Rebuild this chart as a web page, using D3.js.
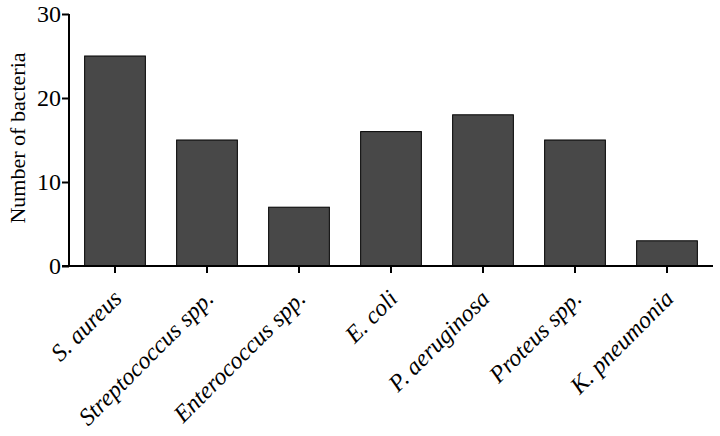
<!DOCTYPE html>
<html><head><meta charset="utf-8">
<script src="https://cdn.jsdelivr.net/npm/d3@7"></script>
<style>body{margin:0;background:#fff}svg{display:block}</style>
</head><body>
<svg id="c" width="720" height="436"></svg>
<script>
const categories = ["S. aureus","Streptococcus spp.","Enterococcus spp.","E. coli","P. aeruginosa","Proteus spp.","K. pneumonia"];
const values = [25, 15, 7, 16, 18, 15, 3];
const yTicks = [0, 10, 20, 30];

const svg = d3.select("#c");
const font = "'Liberation Serif','Times New Roman',serif";
const x = d3.scaleBand().domain(categories).range([69, 713]).paddingInner(0.34).paddingOuter(0.17);
const y = d3.scaleLinear().domain([0, 30]).range([266, 14]);

svg.selectAll("rect.bar").data(values).enter().append("rect")
  .attr("class","bar")
  .attr("x", (d,i) => x(categories[i]))
  .attr("width", x.bandwidth())
  .attr("y", d => y(d))
  .attr("height", d => y(0) - y(d))
  .attr("fill", "#484848")
  .attr("stroke", "#000").attr("stroke-width", 1);

const ya = svg.append("g").attr("transform","translate(69,0)")
  .call(d3.axisLeft(y).tickValues(yTicks).tickSize(7).tickPadding(1).tickFormat(d3.format("d")));
ya.select(".domain").attr("stroke-width",2).attr("d","M0,266V14");
ya.selectAll(".tick line").attr("stroke-width",2);
ya.selectAll("text").attr("font-family",font).attr("font-size",24).attr("fill","#000");

const xa = svg.append("g").attr("transform","translate(0,266)")
  .call(d3.axisBottom(x).tickSize(7).tickFormat(""));
xa.select(".domain").attr("stroke-width",2).attr("d","M62,0H713");
xa.selectAll(".tick line").attr("stroke-width",2);

svg.append("g").selectAll("text").data(categories).enter().append("text")
  .attr("transform", d => `translate(${x(d)+x.bandwidth()/2+8},300) rotate(-45)`)
  .attr("text-anchor","end")
  .attr("font-family",font).attr("font-style","italic").attr("font-size",24).attr("fill","#000")
  .text(d => d);

svg.append("text")
  .attr("transform","translate(25,138) rotate(-90)")
  .attr("text-anchor","middle")
  .attr("font-family",font).attr("font-size",22).attr("fill","#000")
  .text("Number of bacteria");
</script>
</body></html>
